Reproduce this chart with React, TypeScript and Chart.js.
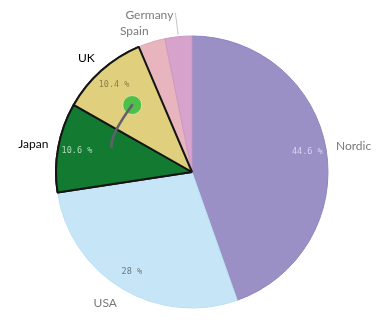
import React, { useEffect, useRef } from "react";
import { Chart, registerables } from "chart.js";

Chart.register(...registerables);

// ---- data ----
const categories = ["Nordic", "USA", "Japan", "UK", "Spain", "Germany"];
const shares = [44.6, 28, 10.6, 10.4, 3.2, 3.2];
const valueLabels = ["44.6 %", "28 %", "10.6 %", "10.4 %", "", ""];
const selected = [false, false, true, true, false, false];

// ---- styles ----
const fillColors = ["#9a90c6", "#c6e6f7", "#137a32", "#e0cf7d", "#e8b4bd", "#d7a3cd"];
const edgeColors = ["#8f84c1", "#b9dff3", "#151515", "#151515", "#dba8b1", "#cb98c2"];
const edgeWidths = [1, 1, 2, 2, 1, 1];
const innerTextColors = ["#d8d4ec", "#6c777d", "#b3d9bc", "#8a7e4e", "#000", "#000"];

const labelPlugin = {
  id: "pieLabels",
  afterDatasetsDraw(chart: any) {
    const ctx: CanvasRenderingContext2D = chart.ctx;
    const meta = chart.getDatasetMeta(0);
    const arcs = meta.data;

    // redraw selected arcs so their dark borders sit on top
    arcs.forEach((arc: any, i: number) => {
      if (selected[i]) arc.draw(ctx);
    });

    // inner value labels
    ctx.save();
    ctx.font = "8.5px 'DejaVu Sans Mono'";
    ctx.textAlign = "center";
    ctx.textBaseline = "middle";
    arcs.forEach((arc: any, i: number) => {
      if (!valueLabels[i]) return;
      const p = arc.getProps(["x", "y", "startAngle", "endAngle", "outerRadius"], true);
      const mid = (p.startAngle + p.endAngle) / 2;
      const r = p.outerRadius * 0.86;
      ctx.fillStyle = innerTextColors[i];
      ctx.fillText(valueLabels[i], p.x + Math.cos(mid) * r, p.y + Math.sin(mid) * r);
    });
    ctx.restore();

    // outer category labels
    ctx.save();
    ctx.font = "12px Lato";
    ctx.textBaseline = "middle";
    const items = arcs.map((arc: any, i: number) => {
      const p = arc.getProps(["x", "y", "startAngle", "endAngle", "outerRadius"], true);
      const mid = (p.startAngle + p.endAngle) / 2;
      const R = p.outerRadius + 10;
      const ax = p.x + Math.cos(mid) * R;
      const ay = p.y + Math.sin(mid) * R;
      const y0 = ay + Math.sin(mid) * 7;
      return { i, p, mid, ax, ay, y0, y: y0, right: Math.cos(mid) >= 0 };
    });
    const gap = 16;
    [true, false].forEach((side) => {
      const list = items.filter((it: any) => it.right === side).sort((a: any, b: any) => a.y - b.y);
      for (let iter = 0; iter < 20; iter++) {
        for (let k = 0; k < list.length - 1; k++) {
          const d = gap - (list[k + 1].y - list[k].y);
          if (d > 0) {
            list[k].y -= d / 2;
            list[k + 1].y += d / 2;
          }
        }
      }
    });
    items.forEach((it: any) => {
      const moved = it.y - it.y0;
      const outward = moved * Math.sin(it.mid);
      let tx = it.ax;
      if (outward > 2) {
        // leader line from the pie edge to the displaced label
        const ex = it.p.x + Math.cos(it.mid) * (it.p.outerRadius + 2);
        const ey = it.p.y + Math.sin(it.mid) * (it.p.outerRadius + 2);
        tx = it.right ? it.ax + 4 : it.ax - 4;
        ctx.strokeStyle = "#c4c4c4";
        ctx.lineWidth = 1;
        ctx.beginPath();
        ctx.moveTo(ex, ey);
        ctx.lineTo(it.right ? tx - 2 : tx + 2, it.y - 2);
        ctx.stroke();
      }
      ctx.textAlign = it.right ? "left" : "right";
      ctx.fillStyle = selected[it.i] ? "#000000" : "#7a7a7a";
      ctx.fillText(categories[it.i], tx, it.y);
    });
    ctx.restore();

    // selection gesture: dot in UK slice with a stroke trailing into Japan
    const uk = arcs[3].getProps(["x", "y", "startAngle", "endAngle", "outerRadius"], true);
    const jp = arcs[2].getProps(["x", "y", "startAngle", "endAngle", "outerRadius"], true);
    const ukMid = (uk.startAngle + uk.endAngle) / 2;
    const cx = uk.x + Math.cos(ukMid) * uk.outerRadius * 0.66;
    const cy = uk.y + Math.sin(ukMid) * uk.outerRadius * 0.66;
    const boundary = jp.endAngle;
    const ctrlA = boundary - (5.3 * Math.PI) / 180;
    const qx = jp.x + Math.cos(ctrlA) * jp.outerRadius * 0.66;
    const qy = jp.y + Math.sin(ctrlA) * jp.outerRadius * 0.66;
    const endA = jp.startAngle + (jp.endAngle - jp.startAngle) * 0.68;
    const ex = jp.x + Math.cos(endA) * jp.outerRadius * 0.62;
    const ey = jp.y + Math.sin(endA) * jp.outerRadius * 0.62;
    ctx.save();
    ctx.fillStyle = "#4dbf4a";
    ctx.strokeStyle = "rgba(240,230,160,0.8)";
    ctx.lineWidth = 1;
    ctx.beginPath();
    ctx.arc(cx, cy, 9.5, 0, Math.PI * 2);
    ctx.fill();
    ctx.stroke();
    ctx.strokeStyle = "#62606f";
    ctx.lineWidth = 2.5;
    ctx.lineCap = "round";
    ctx.lineJoin = "round";
    ctx.beginPath();
    ctx.moveTo(cx, cy);
    ctx.quadraticCurveTo(qx, qy, ex, ey);
    ctx.stroke();
    ctx.restore();
  },
};

export default function App() {
  const canvasRef = useRef<HTMLCanvasElement | null>(null);

  useEffect(() => {
    if (!canvasRef.current) return;
    const chart = new Chart(canvasRef.current, {
      type: "pie",
      data: {
        labels: categories,
        datasets: [
          {
            data: shares,
            backgroundColor: fillColors,
            borderColor: edgeColors,
            borderWidth: edgeWidths,
          },
        ],
      },
      options: {
        animation: false,
        responsive: true,
        maintainAspectRatio: false,
        events: [],
        radius: 136,
        layout: { padding: { left: 0, right: 3, top: 19, bottom: 0 } },
        plugins: {
          legend: { display: false },
          tooltip: { enabled: false },
        },
      } as any,
      plugins: [labelPlugin],
    });
    return () => chart.destroy();
  }, []);

  return (
    <div style={{ position: "absolute", left: 0, top: 0, width: 387, height: 325 }}>
      <canvas ref={canvasRef} />
    </div>
  );
}
